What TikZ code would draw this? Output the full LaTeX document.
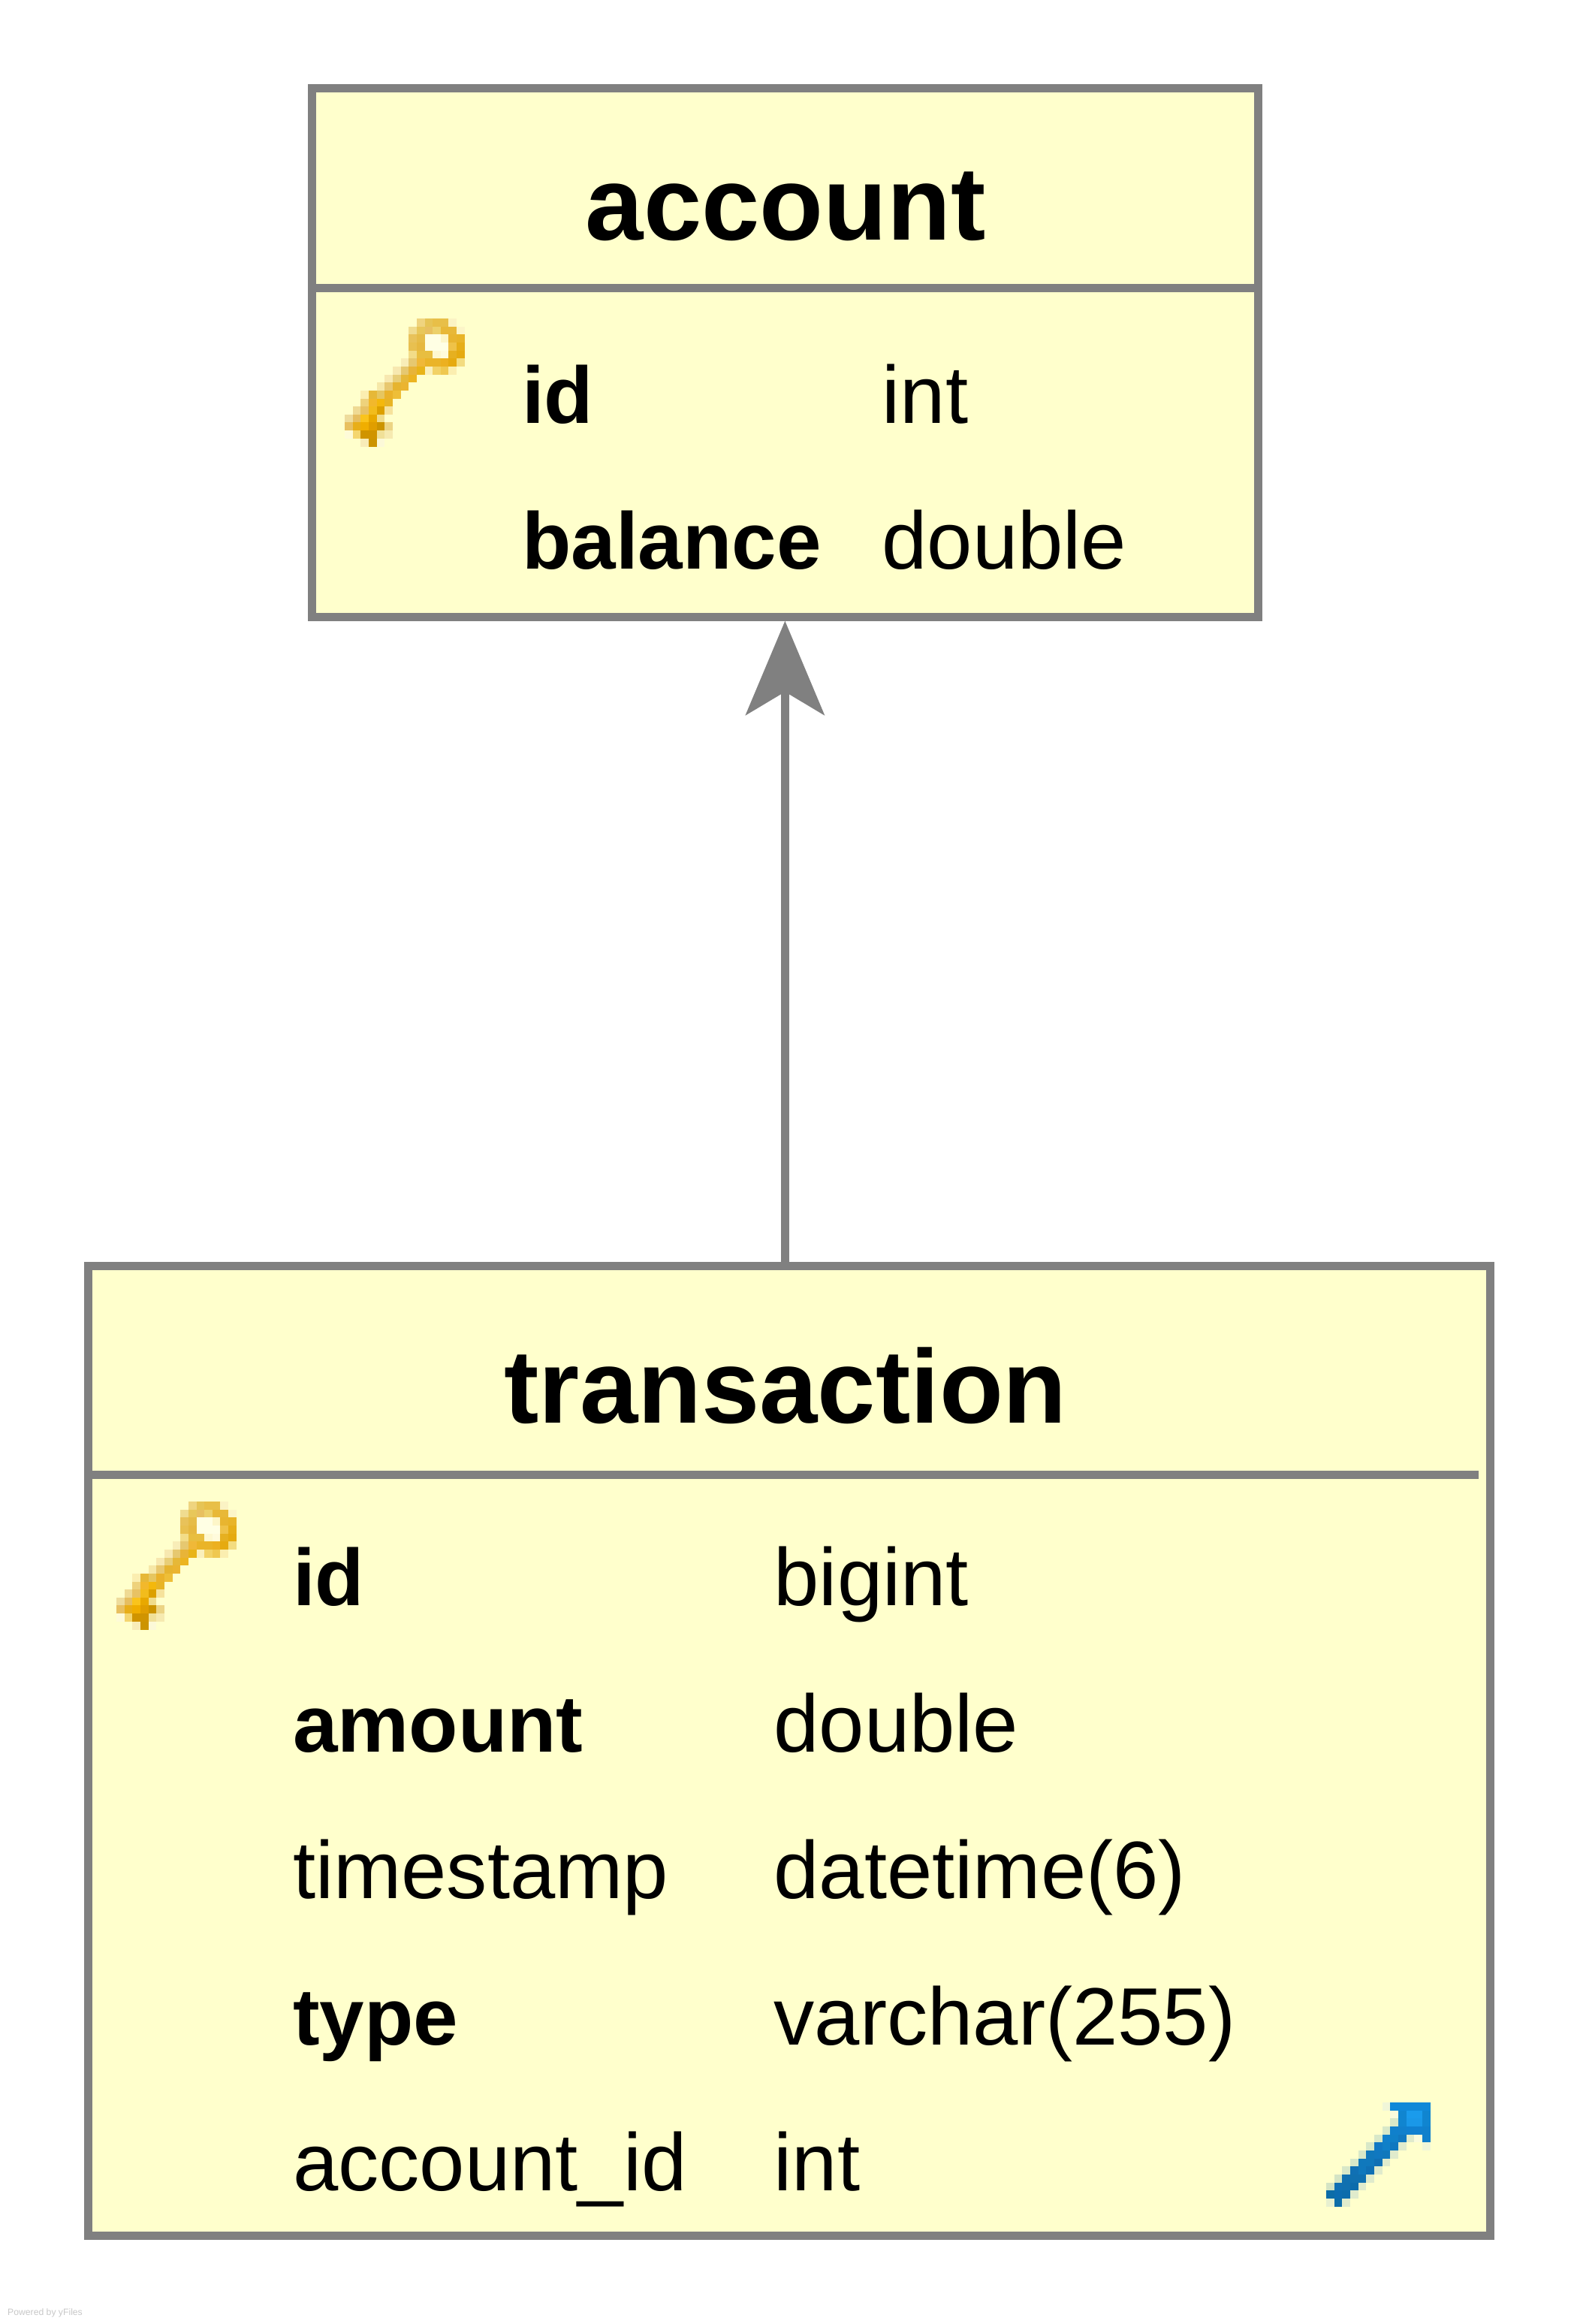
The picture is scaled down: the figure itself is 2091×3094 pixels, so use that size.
\documentclass[tikz,border=0pt]{standalone}
\usepackage{fontspec}
\setmainfont{Liberation Sans}
\usetikzlibrary{arrows.meta}
\definecolor{boxfill}{HTML}{FFFFCC}
\definecolor{boxline}{HTML}{808080}
\definecolor{wmark}{HTML}{C8C8C8}
\newcommand{\cellsz}{10.65}
\newcommand{\cellin}{10.85}
\newcommand{\pxl}[3]{\definecolor{pxc}{HTML}{#3}\fill[pxc] ({#1*\cellsz},{#2*\cellsz}) rectangle ++(\cellin,\cellin);}
\newcommand{\keyicon}[2]{\begin{scope}[shift={(#1,#2)}]
\pxl{9}{0}{EFD47F}\pxl{10}{0}{E6C455}\pxl{11}{0}{E8BF48}\pxl{12}{0}{E8BF48}\pxl{13}{0}{FBF3C4}
\pxl{8}{1}{F0DC90}\pxl{9}{1}{E8C75A}\pxl{10}{1}{E8C060}\pxl{11}{1}{ECD06A}\pxl{12}{1}{E8B838}\pxl{13}{1}{E8B838}\pxl{14}{1}{FCF5C8}
\pxl{8}{2}{E8C25A}\pxl{9}{2}{E6BC48}\pxl{10}{2}{FFFFE4}\pxl{11}{2}{FFFFE4}\pxl{12}{2}{FDF6C8}\pxl{13}{2}{E8B530}\pxl{14}{2}{E8B428}
\pxl{8}{3}{E8C050}\pxl{9}{3}{E6B840}\pxl{10}{3}{FFFFE4}\pxl{11}{3}{FFFFE4}\pxl{12}{3}{FFFFE4}\pxl{13}{3}{EFC248}\pxl{14}{3}{E6AE18}
\pxl{8}{4}{F2DC88}\pxl{9}{4}{E8BE40}\pxl{10}{4}{E8BE40}\pxl{11}{4}{FEF8D0}\pxl{12}{4}{FFFBDC}\pxl{13}{4}{E6B020}\pxl{14}{4}{E5AA10}
\pxl{7}{5}{F8EDB8}\pxl{8}{5}{E6C870}\pxl{9}{5}{F0B838}\pxl{10}{5}{EAB428}\pxl{11}{5}{EAB428}\pxl{12}{5}{ECB020}\pxl{13}{5}{E6AA10}\pxl{14}{5}{F3DC80}
\pxl{6}{6}{F7E8B0}\pxl{7}{6}{E6C870}\pxl{8}{6}{E8B438}\pxl{9}{6}{E8B418}\pxl{10}{6}{FAF0BC}\pxl{11}{6}{F2D266}\pxl{12}{6}{EFC850}\pxl{13}{6}{FBEEB0}
\pxl{5}{7}{F7E8B0}\pxl{6}{7}{E8CE78}\pxl{7}{7}{E6B838}\pxl{8}{7}{ECB420}
\pxl{4}{8}{F6E8A8}\pxl{5}{8}{E8C870}\pxl{6}{8}{E6B430}\pxl{7}{8}{EBB430}
\pxl{2}{9}{FBEEB0}\pxl{3}{9}{E6B838}\pxl{4}{9}{E6C660}\pxl{5}{9}{EAB22A}\pxl{6}{9}{EEBE38}
\pxl{2}{10}{EED27C}\pxl{3}{10}{F2B82C}\pxl{4}{10}{F4B80C}\pxl{5}{10}{E8B424}
\pxl{1}{11}{EFDA94}\pxl{2}{11}{E8C264}\pxl{3}{11}{F2BC1C}\pxl{4}{11}{DCA000}\pxl{5}{11}{F6E29C}
\pxl{0}{12}{EEDC9C}\pxl{1}{12}{E6BE60}\pxl{2}{12}{FAC41C}\pxl{3}{12}{E8A800}\pxl{4}{12}{F0DC8C}
\pxl{0}{13}{E8C060}\pxl{1}{13}{E8AE18}\pxl{2}{13}{F0AE00}\pxl{3}{13}{E09E00}\pxl{4}{13}{CC9400}\pxl{5}{13}{ECD484}
\pxl{0}{14}{FEFBD8}\pxl{1}{14}{F4D670}\pxl{2}{14}{D09400}\pxl{3}{14}{D09400}\pxl{4}{14}{F0E098}\pxl{5}{14}{F6EAB0}
\pxl{2}{15}{F8ECB8}\pxl{3}{15}{CC9400}\pxl{4}{15}{FCF9D8}
\end{scope}}
\newcommand{\fkicon}[2]{\begin{scope}[shift={(#1,#2)}]
\pxl{7}{0}{F0F6D8}\pxl{8}{0}{1088D8}\pxl{9}{0}{1088D8}\pxl{10}{0}{1088D8}\pxl{11}{0}{1088D8}\pxl{12}{0}{1088D8}
\pxl{8}{1}{FAFBDC}\pxl{9}{1}{1085D0}\pxl{10}{1}{1A9BEC}\pxl{11}{1}{1A9BEC}\pxl{12}{1}{1085D0}
\pxl{8}{2}{D8E8C8}\pxl{9}{2}{1085D0}\pxl{10}{2}{1A98E8}\pxl{11}{2}{1A98E8}\pxl{12}{2}{1085D0}
\pxl{7}{3}{D8E8C8}\pxl{8}{3}{1080CC}\pxl{9}{3}{1180CC}\pxl{10}{3}{1080D0}\pxl{11}{3}{1080D0}\pxl{12}{3}{1080CC}
\pxl{6}{4}{D8E8C8}\pxl{7}{4}{1080CC}\pxl{8}{4}{1080C8}\pxl{9}{4}{1178C0}\pxl{10}{4}{E0EBCC}\pxl{11}{4}{FAFBDC}\pxl{12}{4}{1080CC}
\pxl{5}{5}{D8E8C8}\pxl{6}{5}{1078C4}\pxl{7}{5}{1080C8}\pxl{8}{5}{1078C0}\pxl{9}{5}{E0EBCC}\pxl{12}{5}{F0F6D8}
\pxl{4}{6}{D8E8C8}\pxl{5}{6}{1078BC}\pxl{6}{6}{1078C0}\pxl{7}{6}{1078BC}\pxl{8}{6}{E0EBCC}
\pxl{3}{7}{D8E8C8}\pxl{4}{7}{1078BC}\pxl{5}{7}{1078BC}\pxl{6}{7}{1070B4}\pxl{7}{7}{E0EBCC}
\pxl{2}{8}{D8E8C8}\pxl{3}{8}{1070B4}\pxl{4}{8}{1078BC}\pxl{5}{8}{1070B4}\pxl{6}{8}{E0EBCC}
\pxl{1}{9}{D4E4C4}\pxl{2}{9}{1070B0}\pxl{3}{9}{1070B0}\pxl{4}{9}{1070B0}\pxl{5}{9}{E0EBCC}
\pxl{0}{10}{D4E4C4}\pxl{1}{10}{1070B4}\pxl{2}{10}{1070B0}\pxl{3}{10}{0C6CAC}\pxl{4}{10}{E0EBCC}
\pxl{0}{11}{0C6CA8}\pxl{1}{11}{0C6CB0}\pxl{2}{11}{0C6CAC}\pxl{3}{11}{E0EBCC}
\pxl{0}{12}{E8F0D0}\pxl{1}{12}{0C6CA8}\pxl{2}{12}{E0EBCC}
\end{scope}}
\tikzset{
  table/.style={draw=boxline,fill=boxfill,line width=10.6pt,rectangle,inner sep=0pt,line join=miter},
  divider/.style={draw=boxline,line width=10.6pt},
  title/.style={anchor=base,inner sep=0pt,font=\fontsize{139}{139}\selectfont\bfseries},
  col/.style={anchor=base west,inner sep=0pt,font=\fontsize{108.4}{108.4}\selectfont},
  colb/.style={anchor=base west,inner sep=0pt,font=\fontsize{107}{107}\selectfont\bfseries},
  link/.style={draw=boxline,line width=10.6pt,-{Stealth[length=126pt,width=106pt,inset=31.7pt,line width=0pt,boxline]}},
  wm/.style={anchor=base west,inner sep=0pt,text=wmark,font=\fontsize{12.2}{12.2}\selectfont}
}
\begin{document}
\begin{tikzpicture}[x=1pt,y=-1pt]
\useasboundingbox[fill=white] (0,0) rectangle (2091,3094);
% tables
\node[table,minimum width=1260.1pt,minimum height=704.1pt] (account) at (1045.35,469.35) {};
\node[table,minimum width=1867pt,minimum height=1291pt] (transaction) at (1051,2331) {};
% dividers
\coordinate (ad1) at (421,383.3);
\coordinate (ad2) at (1670,383.3);
\coordinate (td1) at (123,1963.5);
\coordinate (td2) at (1969,1963.5);
\draw[divider] (ad1) -- (ad2);
\draw[divider] (td1) -- (td2);
% connector
\draw[link] (account.south |- transaction.north) -- (account.south);
% titles
\node[title] (atitle) at (1046.3,319) {account};
\node[title] (ttitle) at (1046.3,1894) {transaction};
% account rows
\keyicon{459}{424}
\node[colb] (a1n) at (695,563) {id};
\node[col]  (a1t) at (1174.5,563) {int};
\node[colb] (a2n) at (695,757.7) {balance};
\node[col]  (a2t) at (1174.5,757.7) {double};
% transaction rows
\keyicon{155}{1999}
\node[colb] (t1n) at (390,2137.3) {id};
\node[col]  (t1t) at (1030.5,2137.3) {bigint};
\node[colb] (t2n) at (390,2332.6) {amount};
\node[col]  (t2t) at (1030.5,2332.6) {double};
\node[col]  (t3n) at (390,2527.3) {timestamp};
\node[col]  (t3t) at (1030.5,2527.3) {datetime(6)};
\node[colb] (t4n) at (390,2722) {type};
\node[col]  (t4t) at (1030.5,2722) {varchar(255)};
\node[col]  (t5n) at (390,2916.7) {account\_id};
\node[col]  (t5t) at (1030.5,2916.7) {int};
\fkicon{1766}{2799}
% watermark
\node[wm] (wmk) at (10,3082) {Powered by yFiles};
\end{tikzpicture}
\end{document}
